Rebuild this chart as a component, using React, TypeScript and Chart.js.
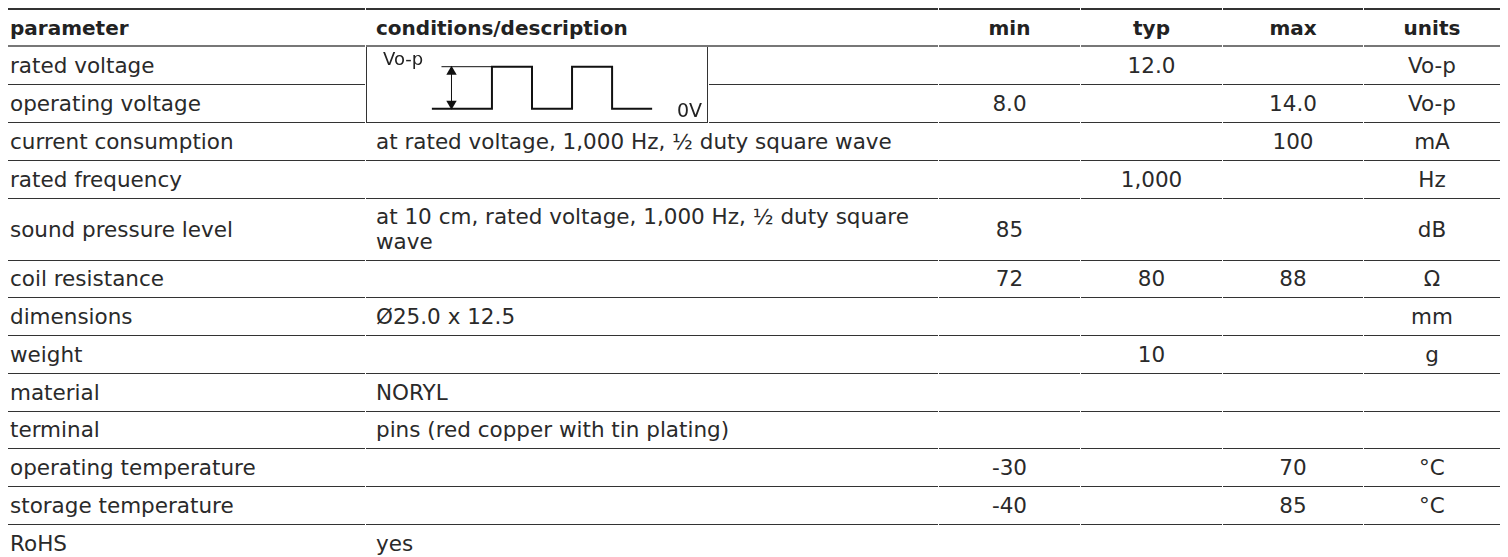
import React, { useEffect, useRef } from 'react';
import { Chart, registerables } from 'chart.js';

Chart.register(...registerables);

// ---- table data ----
const HEADERS = ['parameter', 'conditions/description', 'min', 'typ', 'max', 'units'];
const PARAMETERS = [
  'rated voltage',
  'operating voltage',
  'current consumption',
  'rated frequency',
  'sound pressure level',
  'coil resistance',
  'dimensions',
  'weight',
  'material',
  'terminal',
  'operating temperature',
  'storage temperature',
  'RoHS',
];
const CONDITIONS = [
  '',
  '',
  'at rated voltage, 1,000 Hz, ½ duty square wave',
  '',
  'at 10 cm, rated voltage, 1,000 Hz, ½ duty square wave',
  '',
  'Ø25.0 x 12.5',
  '',
  'NORYL',
  'pins (red copper with tin plating)',
  '',
  '',
  'yes',
];
const MIN_VALUES = ['', '8.0', '', '', '85', '72', '', '', '', '', '-30', '-40', ''];
const TYP_VALUES = ['12.0', '', '', '1,000', '', '80', '', '10', '', '', '', '', ''];
const MAX_VALUES = ['', '14.0', '100', '', '', '88', '', '', '', '', '70', '85', ''];
const UNITS = ['Vo-p', 'Vo-p', 'mA', 'Hz', 'dB', 'Ω', 'mm', 'g', '', '', '°C', '°C', ''];

// ---- waveform data (time in half-periods, level 0 = 0V, 1 = Vo-p) ----
const WAVE_X = [0, 1.5, 1.5, 2.5, 2.5, 3.5, 3.5, 4.5, 4.5, 5.5];
const WAVE_Y = [0, 0, 1, 1, 0, 0, 1, 1, 0, 0];
const REF_LINE_X = [0.24, 1.5];
const REF_LINE_Y = [1, 1];
const ARROW_X = [0.49, 0.49];
const ARROW_Y = [0, 1];
const WAVE_LABEL_TOP = 'Vo-p';
const WAVE_LABEL_BOTTOM = '0V';

const FONT = '"DejaVu Sans", Verdana, sans-serif';
const TEXT = '#2a2a2a';
const LINE = '#333';
const CANVAS_W = 342;
const CANVAS_H = 75;

function Waveform() {
  const ref = useRef<HTMLCanvasElement | null>(null);
  useEffect(() => {
    if (!ref.current) return;
    const pts = (xs: number[], ys: number[]) => xs.map((x, i) => ({ x, y: ys[i] }));
    const headR = 6;
    const headOffset = headR / 50;
    const chart = new Chart(ref.current, {
      type: 'scatter',
      data: {
        datasets: [
          {
            data: pts(WAVE_X, WAVE_Y),
            showLine: true,
            borderColor: '#111',
            borderWidth: 2,
            pointRadius: 0,
            borderJoinStyle: 'miter',
            borderCapStyle: 'butt',
          },
          {
            data: pts(REF_LINE_X, REF_LINE_Y),
            showLine: true,
            borderColor: '#111',
            borderWidth: 1,
            pointRadius: 0,
          },
          {
            data: pts(ARROW_X, ARROW_Y),
            showLine: true,
            borderColor: '#111',
            borderWidth: 1,
            pointRadius: 0,
          },
          {
            data: [
              { x: ARROW_X[1], y: ARROW_Y[1] - headOffset },
              { x: ARROW_X[0], y: ARROW_Y[0] + headOffset },
            ],
            showLine: false,
            pointStyle: 'triangle',
            pointRadius: headR,
            pointRotation: [0, 180] as any,
            backgroundColor: '#111',
            borderColor: '#111',
            borderWidth: 0,
          },
        ],
      },
      options: {
        animation: false,
        responsive: false,
        devicePixelRatio: 1,
        layout: { padding: 0 },
        plugins: { legend: { display: false }, tooltip: { enabled: false } },
        events: [],
        scales: {
          x: { type: 'linear', display: false, min: -1.47, max: 6.77 },
          y: { type: 'linear', display: false, min: -0.174, max: 1.326 },
        },
      } as any,
    });
    return () => chart.destroy();
  }, []);
  return (
    <div style={{ position: 'relative', width: CANVAS_W, height: CANVAS_H }}>
      <canvas ref={ref} width={CANVAS_W} height={CANVAS_H} style={{ position: 'absolute', left: 0, top: 0, width: CANVAS_W, height: CANVAS_H }} />
      <span style={{ position: 'absolute', left: 16, top: 2, fontSize: 18, color: '#222', lineHeight: '20px' }}>{WAVE_LABEL_TOP}</span>
      <span style={{ position: 'absolute', left: 310, top: 53, fontSize: 19, color: '#222', lineHeight: '20px' }}>{WAVE_LABEL_BOTTOM}</span>
    </div>
  );
}

export default function App() {
  useEffect(() => {
    document.documentElement.style.overflow = 'hidden';
    document.body.style.overflow = 'hidden';
  }, []);
  const n = PARAMETERS.length;
  const rowH = (i: number) => (i === 4 ? 61 : 36.75);
  const cell = (i: number, extra: React.CSSProperties = {}): React.CSSProperties => ({
    padding: 0,
    height: rowH(i),
    borderBottom: i === n - 1 ? 'none' : `1px solid ${LINE}`,
    verticalAlign: 'middle',
    color: TEXT,
    ...extra,
  });
  const th = (extra: React.CSSProperties = {}): React.CSSProperties => ({
    padding: 0,
    height: 35,
    borderTop: `2px solid ${LINE}`,
    borderBottom: '2px solid #777',
    fontWeight: 'bold',
    fontSize: 20,
    color: '#222',
    verticalAlign: 'middle',
    ...extra,
  });
  return (
    <div style={{ fontFamily: FONT, fontSize: 21.5 }}>
      <table
        style={{
          borderCollapse: 'separate',
          borderSpacing: '1px 0',
          tableLayout: 'fixed',
          width: 1493,
          margin: 0,
          marginLeft: -1,
          fontFamily: FONT,
          fontSize: 21.5,
        }}
      >
        <colgroup>
          <col style={{ width: 357 }} />
          <col style={{ width: 342 }} />
          <col style={{ width: 229 }} />
          <col style={{ width: 141 }} />
          <col style={{ width: 141 }} />
          <col style={{ width: 140 }} />
          <col style={{ width: 136 }} />
        </colgroup>
        <thead>
          <tr>
            <th style={th({ textAlign: 'left', paddingLeft: 2 })}>{HEADERS[0]}</th>
            <th colSpan={2} style={th({ textAlign: 'left', paddingLeft: 10 })}>{HEADERS[1]}</th>
            <th style={th({ textAlign: 'center' })}>{HEADERS[2]}</th>
            <th style={th({ textAlign: 'center' })}>{HEADERS[3]}</th>
            <th style={th({ textAlign: 'center' })}>{HEADERS[4]}</th>
            <th style={th({ textAlign: 'center' })}>{HEADERS[5]}</th>
          </tr>
        </thead>
        <tbody>
          {PARAMETERS.map((p, i) => (
            <tr key={i}>
              <td style={cell(i, { paddingLeft: 2 })}>{p}</td>
              {i === 0 && (
                <td
                  rowSpan={2}
                  style={{
                    padding: 0,
                    borderLeft: `1px solid ${LINE}`,
                    borderRight: `1px solid ${LINE}`,
                    borderBottom: `1px solid ${LINE}`,
                    verticalAlign: 'top',
                    position: 'relative',
                  }}
                >
                  <Waveform />
                </td>
              )}
              {i < 2 ? (
                <td style={cell(i)}>{CONDITIONS[i]}</td>
              ) : (
                <td colSpan={2} style={cell(i, { paddingLeft: 10 })}>
                  <div style={{ maxWidth: 540 }}>{CONDITIONS[i]}</div>
                </td>
              )}
              <td style={cell(i, { textAlign: 'center' })}>{MIN_VALUES[i]}</td>
              <td style={cell(i, { textAlign: 'center' })}>{TYP_VALUES[i]}</td>
              <td style={cell(i, { textAlign: 'center' })}>{MAX_VALUES[i]}</td>
              <td style={cell(i, { textAlign: 'center' })}>{UNITS[i]}</td>
            </tr>
          ))}
        </tbody>
      </table>
    </div>
  );
}
